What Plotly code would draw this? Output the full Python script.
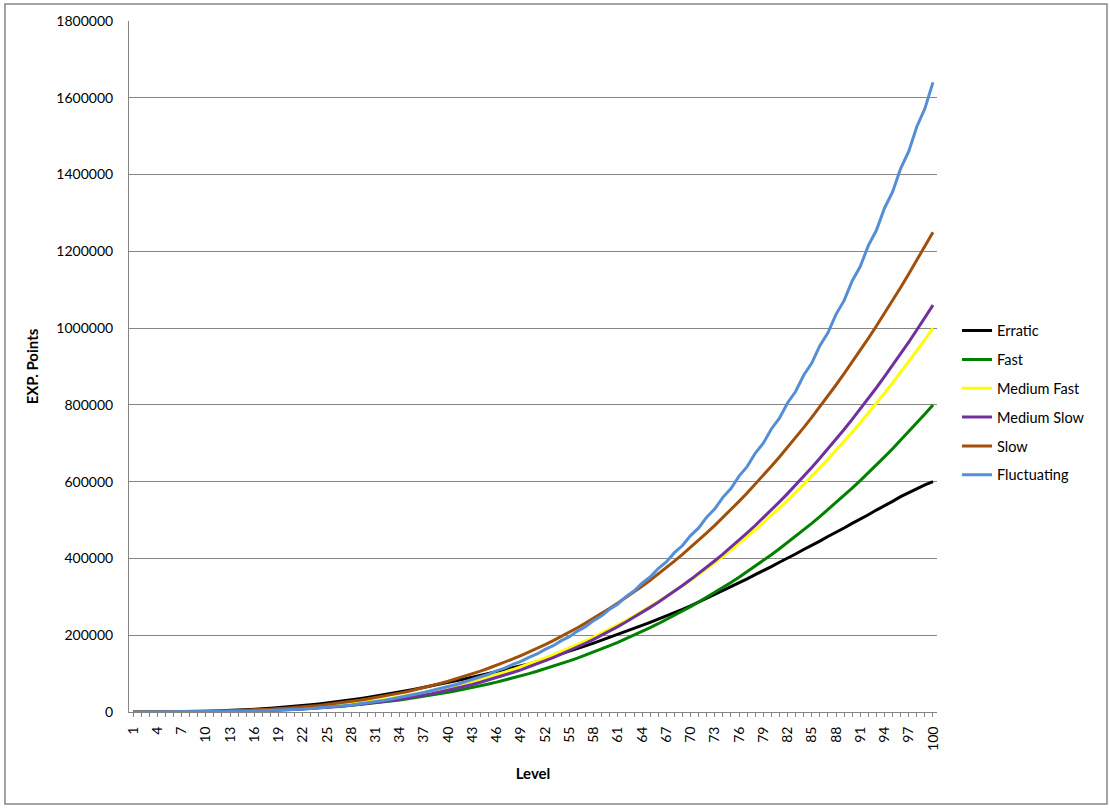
import plotly.graph_objects as go

levels = list(range(1, 101))

erratic = [0, 15, 52, 122, 237, 406, 637, 942, 1326, 1800,
           2369, 3041, 3822, 4719, 5737, 6881, 8155, 9564, 11111, 12800,
           14632, 16610, 18737, 21012, 23437, 26012, 28737, 31610, 34632, 37800,
           41111, 44564, 48155, 51881, 55737, 59719, 63822, 68041, 72369, 76800,
           81326, 85942, 90637, 95406, 100237, 105122, 110052, 115015, 120001, 125000,
           131324, 137795, 144410, 151165, 158056, 165079, 172229, 179503, 186894, 194400,
           202013, 209728, 217540, 225443, 233431, 241496, 249633, 257834, 267406, 276458,
           286328, 296358, 305767, 316074, 326531, 336255, 346965, 357812, 367807, 378880,
           390077, 400293, 411686, 423190, 433572, 445239, 457001, 467489, 479378, 491346,
           501878, 513934, 526049, 536557, 548720, 560922, 571333, 583539, 591882, 600000]

fast = [0, 6, 21, 51, 100, 172, 274, 409, 583, 800,
        1064, 1382, 1757, 2195, 2700, 3276, 3930, 4665, 5487, 6400,
        7408, 8518, 9733, 11059, 12500, 14060, 15746, 17561, 19511, 21600,
        23832, 26214, 28749, 31443, 34300, 37324, 40522, 43897, 47455, 51200,
        55136, 59270, 63605, 68147, 72900, 77868, 83058, 88473, 94119, 100000,
        106120, 112486, 119101, 125971, 133100, 140492, 148154, 156089, 164303, 172800,
        181584, 190662, 200037, 209715, 219700, 229996, 240610, 251545, 262807, 274400,
        286328, 298598, 311213, 324179, 337500, 351180, 365226, 379641, 394431, 409600,
        425152, 441094, 457429, 474163, 491300, 508844, 526802, 545177, 563975, 583200,
        602856, 622950, 643485, 664467, 685900, 707788, 730138, 752953, 776239, 800000]

medium_fast = [0, 8, 27, 64, 125, 216, 343, 512, 729, 1000,
               1331, 1728, 2197, 2744, 3375, 4096, 4913, 5832, 6859, 8000,
               9261, 10648, 12167, 13824, 15625, 17576, 19683, 21952, 24389, 27000,
               29791, 32768, 35937, 39304, 42875, 46656, 50653, 54872, 59319, 64000,
               68921, 74088, 79507, 85184, 91125, 97336, 103823, 110592, 117649, 125000,
               132651, 140608, 148877, 157464, 166375, 175616, 185193, 195112, 205379, 216000,
               226981, 238328, 250047, 262144, 274625, 287496, 300763, 314432, 328509, 343000,
               357911, 373248, 389017, 405224, 421875, 438976, 456533, 474552, 493039, 512000,
               531441, 551368, 571787, 592704, 614125, 636056, 658503, 681472, 704969, 729000,
               753571, 778688, 804357, 830584, 857375, 884736, 912673, 941192, 970299, 1000000]

medium_slow = [0, 9, 57, 96, 135, 179, 236, 314, 419, 560,
               742, 973, 1261, 1612, 2035, 2535, 3120, 3798, 4575, 5460,
               6458, 7577, 8825, 10208, 11735, 13411, 15244, 17242, 19411, 21760,
               24294, 27021, 29949, 33084, 36435, 40007, 43808, 47846, 52127, 56660,
               61450, 66505, 71833, 77440, 83335, 89523, 96012, 102810, 109923, 117360,
               125126, 133229, 141677, 150476, 159635, 169159, 179056, 189334, 199999, 211060,
               222522, 234393, 246681, 259392, 272535, 286115, 300140, 314618, 329555, 344960,
               360838, 377197, 394045, 411388, 429235, 447591, 466464, 485862, 505791, 526260,
               547274, 568841, 590969, 613664, 636935, 660787, 685228, 710266, 735907, 762160,
               789030, 816525, 844653, 873420, 902835, 932903, 963632, 995030, 1027103, 1059860]

slow = [0, 10, 33, 80, 156, 270, 428, 640, 911, 1250,
        1663, 2160, 2746, 3430, 4218, 5120, 6141, 7290, 8573, 10000,
        11576, 13310, 15208, 17280, 19531, 21970, 24603, 27440, 30486, 33750,
        37238, 40960, 44921, 49130, 53593, 58320, 63316, 68590, 74148, 80000,
        86151, 92610, 99383, 106480, 113906, 121670, 129778, 138240, 147061, 156250,
        165813, 175760, 186096, 196830, 207968, 219520, 231491, 243890, 256723, 270000,
        283726, 297910, 312558, 327680, 343281, 359370, 375953, 393040, 410636, 428750,
        447388, 466560, 486271, 506530, 527343, 548720, 570666, 593190, 616298, 640000,
        664301, 689210, 714733, 740880, 767656, 795070, 823128, 851840, 881211, 911250,
        941963, 973360, 1005446, 1038230, 1071718, 1105920, 1140841, 1176490, 1212873, 1250000]

fluctuating = [0, 4, 13, 32, 65, 112, 178, 276, 393, 540,
               745, 967, 1230, 1591, 1957, 2457, 3046, 3732, 4526, 5440,
               6482, 7666, 9003, 10506, 12187, 14060, 16140, 18439, 20974, 23760,
               26811, 30146, 33780, 37731, 42017, 46656, 50653, 55969, 60505, 66560,
               71677, 78533, 84277, 91998, 98415, 107069, 114205, 123863, 131766, 142500,
               151222, 163105, 172697, 185807, 196322, 210739, 222231, 238036, 250562, 267840,
               281456, 300293, 315059, 335544, 351520, 373744, 390991, 415050, 433631, 459620,
               479600, 507617, 529063, 559209, 582187, 614566, 639146, 673863, 700115, 737280,
               765275, 804997, 834809, 877201, 908905, 954084, 987754, 1035837, 1071552, 1122660,
               1160499, 1214753, 1254796, 1312322, 1354652, 1415577, 1460276, 1524731, 1571884, 1640000]

series_names = ["Erratic", "Fast", "Medium Fast", "Medium Slow", "Slow", "Fluctuating"]
series_values = [erratic, fast, medium_fast, medium_slow, slow, fluctuating]
series_colors = ["#000000", "#008000", "#FFFF00", "#7030A0", "#A0500A", "#558ED5"]

x_tick_labels = list(range(1, 101, 3))
y_ticks = list(range(0, 1800001, 200000))

FONT = "Lato, 'Liberation Sans', sans-serif"
GRID = "#868686"

fig = go.Figure()
for name, vals, col in zip(series_names, series_values, series_colors):
    fig.add_trace(go.Scatter(
        x=levels, y=vals, name=name, mode="lines",
        line=dict(color=col, width=3),
        legendgroup=name,
    ))

fig.update_layout(
    width=1110, height=810,
    paper_bgcolor="white", plot_bgcolor="white",
    margin=dict(l=129, r=173, t=21, b=98),
    font=dict(family=FONT, size=14, color="#000000"),
    showlegend=True,
    legend=dict(
        x=1.0248, xanchor="left", y=0.447, yanchor="middle",
        traceorder="grouped", tracegroupgap=7,
        font=dict(family=FONT, size=14.5, color="#000000"),
        bgcolor="rgba(0,0,0,0)", itemwidth=30,
    ),
    xaxis=dict(
        range=[0.5, 100.5],
        tickmode="array", tickvals=x_tick_labels,
        ticktext=[str(v) for v in x_tick_labels],
        tickangle=-90,
        ticks="outside", ticklen=4, tickcolor=GRID, tickwidth=1,
        minor=dict(tick0=1, dtick=1, ticks="outside", ticklen=4, tickcolor=GRID),
        showline=True, linecolor=GRID, linewidth=1,
        showgrid=False, zeroline=False,
        tickfont=dict(family=FONT, size=14),
        ticklabelstandoff=4,
        title=dict(text="<b>Level</b>", font=dict(family=FONT, size=15), standoff=18),
    ),
    yaxis=dict(
        range=[0, 1800000],
        tickmode="array", tickvals=y_ticks,
        tickformat="d",
        ticks="", showline=True, linecolor=GRID, linewidth=1,
        showgrid=True, gridcolor=GRID, gridwidth=1,
        zeroline=False,
        tickfont=dict(family=FONT, size=14),
        ticklabelstandoff=12,
        title=dict(text="<b>EXP. Points</b>", font=dict(family=FONT, size=15), standoff=14),
    ),
)

# outer chart border
fig.add_shape(type="rect", xref="paper", yref="paper",
              x0=-0.1535, x1=1.2104, y0=-0.1331, y1=1.0246,
              line=dict(color=GRID, width=1.5), fillcolor="rgba(0,0,0,0)", layer="below")

fig.write_html("out.html", config={"displayModeBar": False},
               post_script="document.body.style.margin='0';")
